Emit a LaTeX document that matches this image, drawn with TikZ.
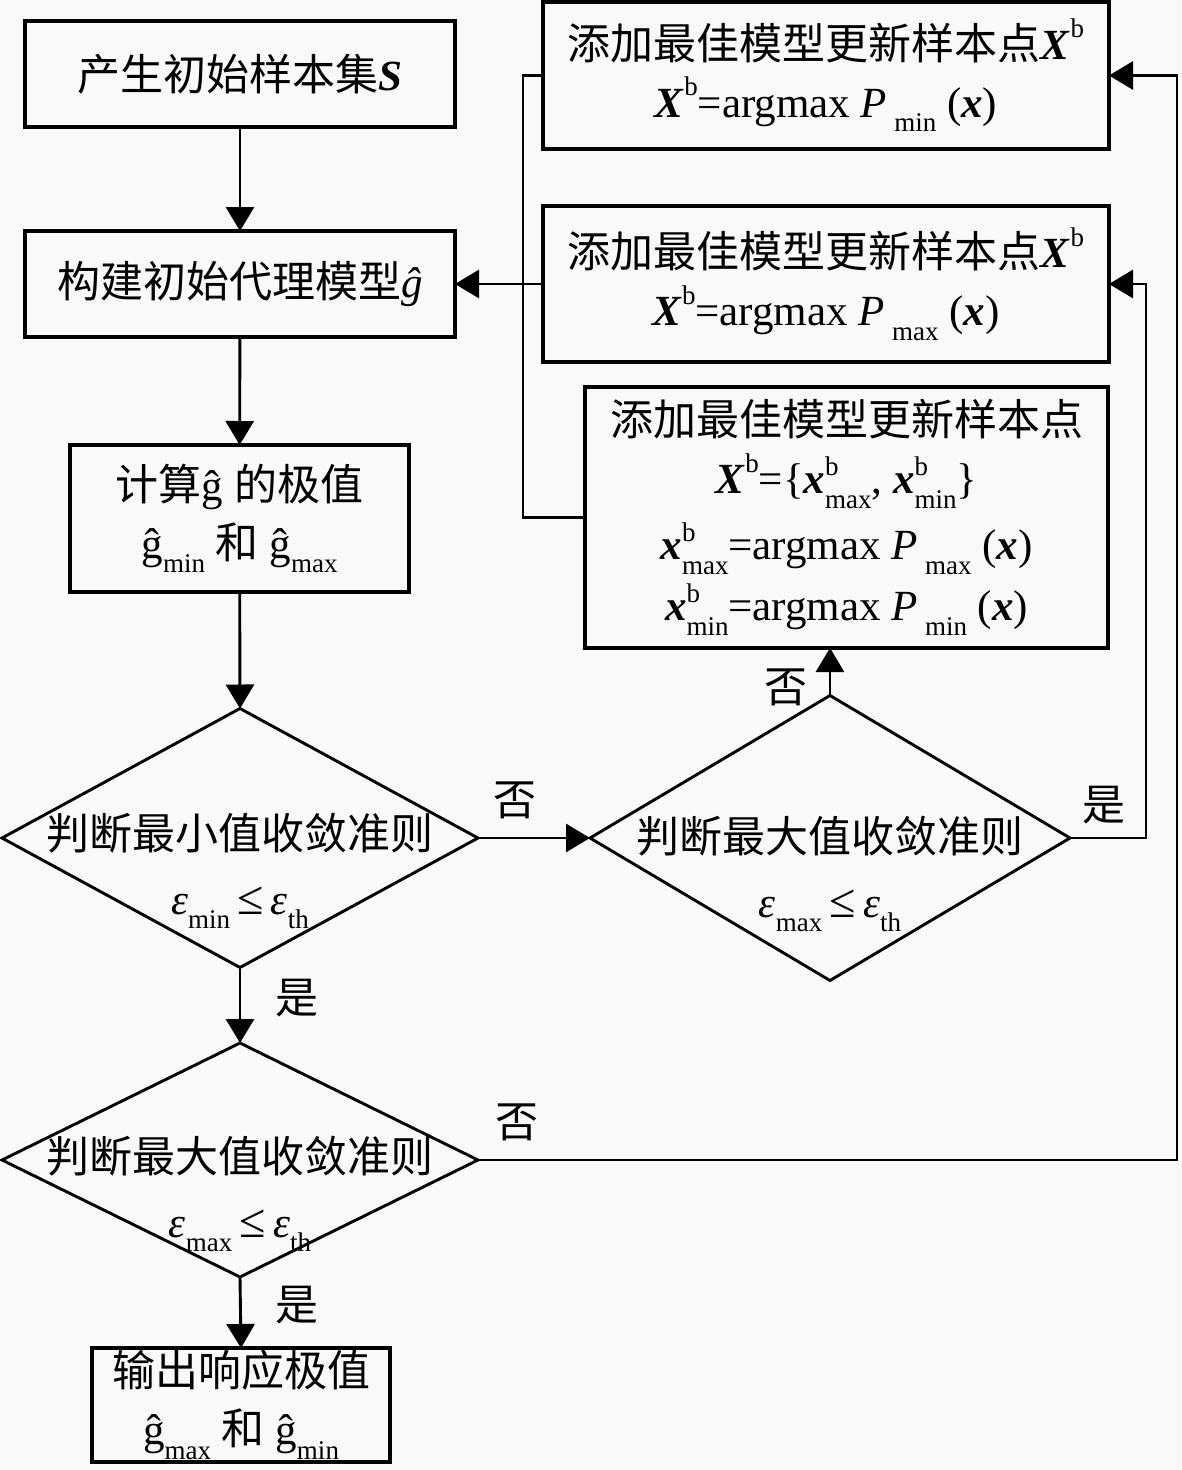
\documentclass[tikz,border=0pt]{standalone}
\usepackage{fontspec}
\setmainfont{Liberation Serif}
\newfontfamily\cjk{Noto Sans CJK SC}
\usetikzlibrary{arrows.meta,shapes.geometric}
\definecolor{bg}{RGB}{249,249,249}
\newcommand\fsz{\fontsize{43}{58}\selectfont}
\newcommand\lo[1]{\raisebox{-0.34em}{\fontsize{27}{27}\selectfont #1}}
\newcommand\hi[1]{\raisebox{0.5em}{\fontsize{27}{27}\selectfont #1}}
\newcommand\hilo[2]{\makebox[0pt][l]{\raisebox{0.42em}{\fontsize{27}{27}\selectfont #1}}\lo{#2}}
\newcommand\bX{\textbf{\textit{X}}}
\newcommand\bx{\textbf{\textit{x}}}
\newcommand\gh{\textit{ĝ}}
\newcommand\gr{ĝ}
\newcommand\leqs{\,{\fontsize{48}{48}\selectfont ≤}\,}
\begin{document}
\begin{tikzpicture}[x=1pt,y=-1pt,
  box/.style={draw, line width=3.1pt, fill=bg, inner sep=0pt, outer sep=0pt, align=center, font=\fsz},
  dia/.style={draw, diamond, line width=2.9pt, inner sep=0pt, outer sep=0pt},
  txt/.style={align=center, font=\fsz, inner sep=0pt},
  lab/.style={font=\fsz, inner sep=0pt},
  arr/.style={line width=2.9pt, -{Triangle[length=24pt,width=28pt]}},
  ln/.style={line width=2.9pt}]
\fill[bg] (0,0) rectangle (1181,1470);
\useasboundingbox (0,0) rectangle (1181,1470);

% left column
\node[box, minimum width=430, minimum height=106] (A) at (240,74) {{\cjk 产生初始样本集}\textbf{\textit{S}}};
\node[box, minimum width=430, minimum height=106] (B) at (240,284) {{\cjk 构建初始代理模型}\gh};
\node[box, minimum width=339, minimum height=147] (C) at (239.5,518.5) {{\cjk 计算}\gr\ {\cjk 的极值}\\ \gr\lo{min} {\cjk 和} \gr\lo{max}};
\node[dia, minimum width=476, minimum height=259] (D1) at (240,838) {};
\node[txt] (D1t) at (240,871) {{\cjk 判断最小值收敛准则}\\[7pt] \textit{ε}\lo{min}\leqs\textit{ε}\lo{th}};
\node[dia, minimum width=476, minimum height=234] (D3) at (240,1160) {};
\node[txt] (D3t) at (240,1194) {{\cjk 判断最大值收敛准则}\\[7pt] \textit{ε}\lo{max}\leqs\textit{ε}\lo{th}};
\node[box, minimum width=298, minimum height=114] (G) at (241,1405) {{\cjk 输出响应极值}\\ \gr\lo{max} {\cjk 和} \gr\lo{min}};

% right column
\node[box, minimum width=566, minimum height=147] (P1) at (826,75.5) {{\cjk 添加最佳模型更新样本点}\bX\hi{b}\\ \bX\hi{b}=argmax \textit{P}\,\lo{min} (\bx)};
\node[box, minimum width=566, minimum height=156] (P2) at (826,284) {{\cjk 添加最佳模型更新样本点}\bX\hi{b}\\ \bX\hi{b}=argmax \textit{P}\,\lo{max} (\bx)};
\node[box, minimum width=523, minimum height=261] (P3) at (846.5,517.5) {{\cjk 添加最佳模型更新样本点}\\ \bX\hi{b}=\{\bx\hilo{b}{max}, \bx\hilo{b}{min}\}\\[8pt] \bx\hilo{b}{max}=argmax \textit{P}\,\lo{max} (\bx)\\[3pt] \bx\hilo{b}{min}=argmax \textit{P}\,\lo{min} (\bx)};
\node[dia, minimum width=480, minimum height=285] (D2) at (830,838) {};
\node[txt] (D2t) at (830,874) {{\cjk 判断最大值收敛准则}\\[7pt] \textit{ε}\lo{max}\leqs\textit{ε}\lo{th}};

% helper coordinates
\coordinate (bus) at (523,0);
\coordinate (r1) at (1146,0);
\coordinate (r2) at (1177,0);

% main flow
\draw[arr] (A) -- (B);
\draw[arr] (B) -- (C);
\draw[arr] (C) -- (D1.north);
\draw[arr] (D1.east) -- (D2.west);
\draw[arr] (D1.south) -- (D3.north);
\draw[arr] (D3.south) -- (G.north);
\draw[arr] (D2.north) -- (D2.north |- P3.south);
\draw[arr] (D2.east) -- (D2.east -| r1) -- (r1 |- P2.east) -- (P2.east);
\draw[arr] (D3.east) -- (D3.east -| r2) -- (r2 |- P1.east) -- (P1.east);

% feedback bus
\draw[ln] (P1.west) -- (P1.west -| bus) -- (bus |- P3.west) -- (P3.west);
\draw[arr] (P2.west) -- (B.east);

% labels
\node[lab] (n1) at (515,800) {\cjk 否};
\node[lab] (y1) at (297,998) {\cjk 是};
\node[lab] (n2) at (786,687) {\cjk 否};
\node[lab] (y2) at (1104,805) {\cjk 是};
\node[lab] (n3) at (517,1122) {\cjk 否};
\node[lab] (y3) at (297,1305) {\cjk 是};
\end{tikzpicture}
\end{document}
